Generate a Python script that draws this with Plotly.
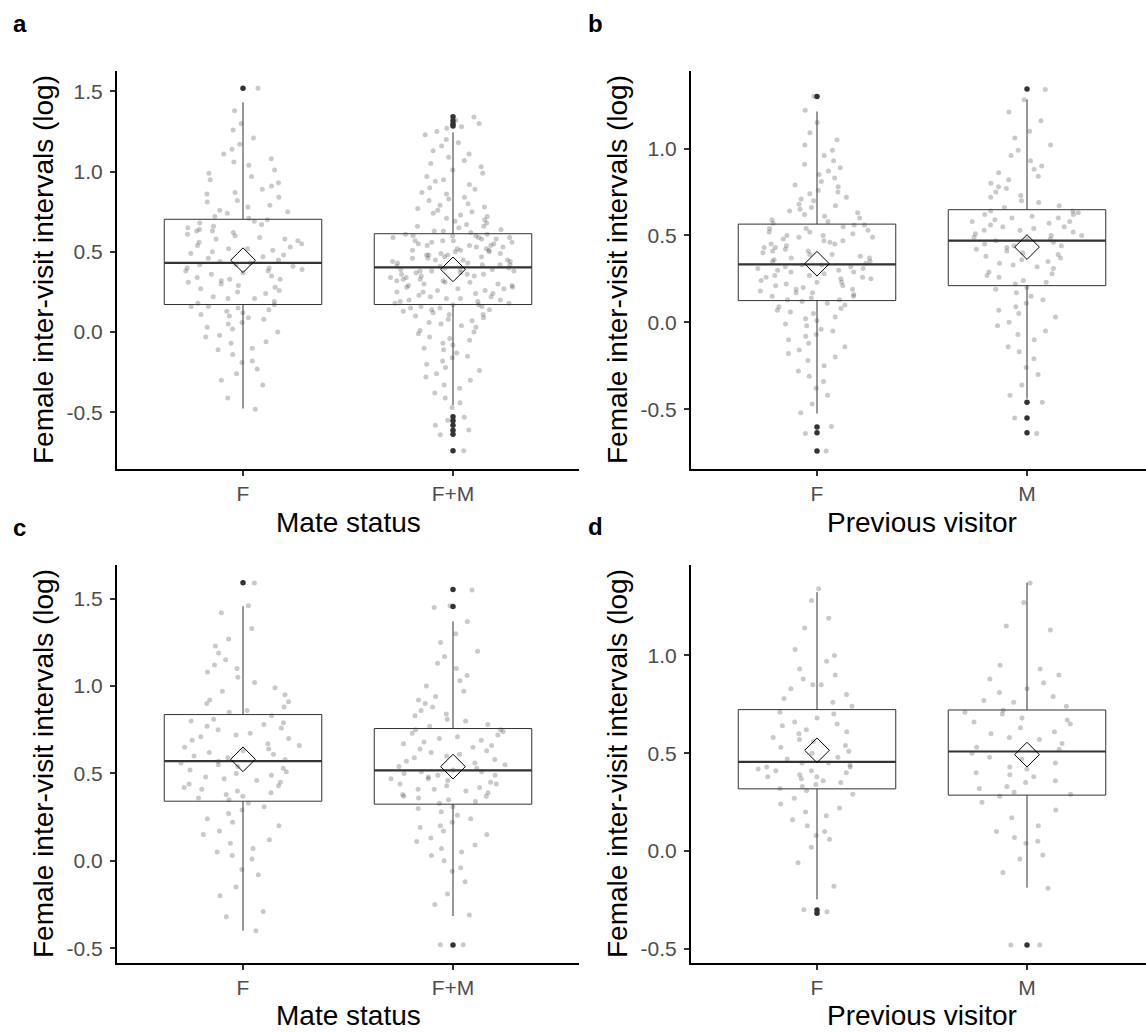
import plotly.graph_objects as go

W, H = 1146, 1032
FONT = "Liberation Sans, Arial, Helvetica, sans-serif"

# ---------------- categories / labels ----------------
cats_mate = ["F", "F+M"]
cats_prev = ["F", "M"]
ytitle = "Female inter-visit intervals (log)"
xtitle_mate = "Mate status"
xtitle_prev = "Previous visitor"
panel_letters = ["a", "b", "c", "d"]

# ---------------- jittered observations (read from clouds) ----------------
a_F = [-0.48, -0.41, -0.33, -0.30, -0.26, -0.23, -0.19, -0.18, -0.14, -0.11, -0.10, -0.07, -0.06, -0.03, -0.02,
       0.00, 0.02, 0.03, 0.05, 0.06, 0.08, 0.09, 0.10, 0.11, 0.12, 0.13, 0.14, 0.15, 0.16, 0.16,
       0.17, 0.18, 0.19, 0.21, 0.21, 0.22, 0.24, 0.25, 0.26, 0.27, 0.28, 0.29, 0.30, 0.31, 0.32,
       0.33, 0.33, 0.34, 0.35, 0.36, 0.37, 0.38, 0.38, 0.39, 0.40, 0.40, 0.41, 0.42, 0.42, 0.43,
       0.44, 0.45, 0.46, 0.47, 0.48, 0.49, 0.50, 0.51, 0.52, 0.52, 0.53, 0.54, 0.55, 0.56, 0.57,
       0.58, 0.58, 0.59, 0.60, 0.61, 0.62, 0.63, 0.63, 0.64, 0.65, 0.66, 0.67, 0.68, 0.69, 0.70,
       0.71, 0.72, 0.74, 0.75, 0.76, 0.78, 0.79, 0.81, 0.82, 0.84, 0.86, 0.87, 0.89, 0.91, 0.93,
       0.95, 0.97, 0.99, 1.01, 1.04, 1.06, 1.08, 1.11, 1.14, 1.17, 1.21, 1.26, 1.30, 1.38, 1.52]
a_FM = [-0.74, -0.64, -0.61, -0.58, -0.55, -0.53, -0.47, -0.44, -0.41, -0.38, -0.35, -0.33, -0.30, -0.28, -0.26,
        -0.24, -0.22, -0.20, -0.18, -0.16, -0.15, -0.13, -0.11, -0.10, -0.08, -0.07, -0.05, -0.04, -0.03, -0.01,
        0.00, 0.01, 0.03, 0.04, 0.05, 0.06, 0.07, 0.08, 0.09, 0.10, 0.11, 0.11, 0.12, 0.13, 0.14,
        0.14, 0.15, 0.15, 0.16, 0.16,
        0.17, 0.17, 0.18, 0.18, 0.19, 0.19, 0.20, 0.20, 0.21, 0.21, 0.22, 0.22, 0.23, 0.24, 0.24,
        0.25, 0.25, 0.26, 0.26, 0.27, 0.27, 0.28, 0.28, 0.29, 0.29, 0.30, 0.30, 0.31, 0.31, 0.32,
        0.32, 0.33, 0.33, 0.34, 0.34, 0.35, 0.35, 0.36, 0.36, 0.36, 0.37, 0.37, 0.38, 0.38, 0.38,
        0.39, 0.39, 0.39, 0.40, 0.40,
        0.41, 0.41, 0.42, 0.42, 0.42, 0.43, 0.43, 0.44, 0.44, 0.45, 0.45, 0.45, 0.46, 0.46, 0.47,
        0.47, 0.48, 0.48, 0.48, 0.49, 0.49, 0.50, 0.50, 0.51, 0.51, 0.51, 0.52, 0.52, 0.53, 0.53,
        0.54, 0.54, 0.54, 0.55, 0.55, 0.56, 0.56, 0.57, 0.57, 0.57, 0.58, 0.58, 0.59, 0.59, 0.59,
        0.60, 0.60, 0.60, 0.61, 0.61,
        0.62, 0.63, 0.63, 0.64, 0.65, 0.66, 0.66, 0.67, 0.68, 0.69, 0.70, 0.71, 0.72, 0.73, 0.74,
        0.75, 0.76, 0.77, 0.78, 0.79, 0.80, 0.82, 0.83, 0.84, 0.86, 0.87, 0.89, 0.90, 0.92, 0.94,
        0.95, 0.97, 0.99, 1.01, 1.03, 1.05, 1.07, 1.09, 1.11, 1.13, 1.16, 1.18, 1.20, 1.23, 1.25,
        1.27, 1.28, 1.30, 1.32, 1.34]
b_F = [-0.74, -0.64, -0.60, -0.52, -0.47, -0.42, -0.38, -0.34, -0.31, -0.28, -0.25, -0.22, -0.20, -0.18, -0.16,
       -0.14, -0.12, -0.10, -0.08, -0.07, -0.05, -0.04, -0.02, -0.01, 0.01, 0.02, 0.03, 0.05, 0.06, 0.07,
       0.08, 0.09, 0.10, 0.11, 0.12,
       0.13, 0.13, 0.14, 0.15, 0.15, 0.16, 0.17, 0.17, 0.18, 0.19, 0.19, 0.20, 0.21, 0.21, 0.22,
       0.23, 0.23, 0.24, 0.25, 0.25, 0.26, 0.26, 0.27, 0.27, 0.28, 0.29, 0.29, 0.30, 0.30, 0.31,
       0.31, 0.32, 0.32, 0.33, 0.33,
       0.34, 0.35, 0.35, 0.36, 0.37, 0.37, 0.38, 0.39, 0.39, 0.40, 0.41, 0.41, 0.42, 0.43, 0.43,
       0.44, 0.45, 0.45, 0.46, 0.47, 0.47, 0.48, 0.49, 0.49, 0.50, 0.50, 0.51, 0.52, 0.52, 0.53,
       0.54, 0.54, 0.55, 0.56, 0.56,
       0.57, 0.58, 0.59, 0.60, 0.61, 0.62, 0.63, 0.64, 0.65, 0.66, 0.67, 0.68, 0.70, 0.71, 0.72,
       0.74, 0.75, 0.76, 0.78, 0.79, 0.81, 0.83, 0.85, 0.87, 0.89, 0.91, 0.93, 0.96, 0.99, 1.02,
       1.05, 1.09, 1.15, 1.22, 1.30]
b_M = [-0.64, -0.55, -0.46, -0.42, -0.36, -0.30, -0.26, -0.21, -0.17, -0.14, -0.10, -0.07, -0.05, -0.02, 0.00,
       0.03, 0.05, 0.07, 0.09, 0.11, 0.13, 0.15, 0.17, 0.19, 0.20,
       0.22, 0.23, 0.24, 0.26, 0.27, 0.28, 0.29, 0.31, 0.32, 0.33, 0.34, 0.35, 0.36, 0.37, 0.38,
       0.39, 0.40, 0.41, 0.42, 0.43, 0.44, 0.44, 0.45, 0.46, 0.47,
       0.48, 0.48, 0.49, 0.50, 0.50, 0.51, 0.52, 0.53, 0.53, 0.54, 0.55, 0.55, 0.56, 0.57, 0.58,
       0.58, 0.59, 0.60, 0.60, 0.61, 0.62, 0.62, 0.63, 0.64, 0.64,
       0.66, 0.67, 0.69, 0.70, 0.72, 0.73, 0.75, 0.77, 0.78, 0.80, 0.82, 0.84, 0.86, 0.88, 0.90,
       0.93, 0.96, 0.99, 1.02, 1.06, 1.10, 1.16, 1.21, 1.28, 1.34]
c_F = [-0.40, -0.32, -0.29, -0.20, -0.15, -0.08, -0.05, 0.01, 0.03, 0.05, 0.07, 0.10, 0.12, 0.15, 0.17,
       0.20, 0.22, 0.24, 0.27, 0.29, 0.31, 0.33,
       0.35, 0.36, 0.37, 0.38, 0.39, 0.40, 0.41, 0.42, 0.43, 0.44, 0.45, 0.46, 0.47, 0.48, 0.49,
       0.50, 0.51, 0.52, 0.53, 0.54, 0.55, 0.56, 0.57,
       0.58, 0.59, 0.60, 0.61, 0.62, 0.63, 0.64, 0.65, 0.66, 0.67, 0.69, 0.70, 0.71, 0.72, 0.73,
       0.75, 0.76, 0.77, 0.78, 0.79, 0.80, 0.81, 0.83,
       0.85, 0.86, 0.88, 0.90, 0.91, 0.92, 0.95, 0.97, 0.99, 1.02, 1.05, 1.08, 1.10, 1.12, 1.15,
       1.19, 1.23, 1.27, 1.33, 1.42, 1.46, 1.59]
c_FM = [-0.48, -0.48, -0.31, -0.25, -0.19, -0.12, -0.06, -0.04, 0.00, 0.03, 0.05, 0.07, 0.09, 0.11, 0.13,
        0.15, 0.17, 0.19, 0.20, 0.22, 0.24, 0.26, 0.28, 0.30, 0.31,
        0.33, 0.34, 0.35, 0.36, 0.37, 0.37, 0.38, 0.39, 0.40, 0.41, 0.41, 0.42, 0.43, 0.44, 0.44,
        0.45, 0.46, 0.47, 0.47, 0.48, 0.49, 0.49, 0.50, 0.51, 0.51,
        0.52, 0.53, 0.54, 0.55, 0.56, 0.57, 0.58, 0.59, 0.60, 0.61, 0.62, 0.63, 0.64, 0.65, 0.66,
        0.67, 0.68, 0.69, 0.70, 0.71, 0.72, 0.73, 0.74, 0.75, 0.75,
        0.77, 0.78, 0.80, 0.81, 0.83, 0.84, 0.86, 0.88, 0.90, 0.92, 0.94, 0.97, 1.00, 1.03, 1.06,
        1.10, 1.13, 1.17, 1.20, 1.25, 1.30, 1.37, 1.45, 1.46, 1.55]
d_F = [-0.31, -0.30, -0.18, -0.06, 0.02, 0.06, 0.08, 0.10, 0.13, 0.16, 0.18, 0.20, 0.22, 0.24, 0.27,
       0.29, 0.31,
       0.32, 0.33, 0.34, 0.35, 0.36, 0.37, 0.38, 0.38, 0.39, 0.40, 0.41, 0.41, 0.42, 0.43, 0.43,
       0.44, 0.45, 0.45,
       0.47, 0.48, 0.50, 0.51, 0.53, 0.54, 0.56, 0.57, 0.58, 0.60, 0.61, 0.62, 0.64, 0.65, 0.66,
       0.68, 0.70, 0.71,
       0.74, 0.76, 0.78, 0.80, 0.83, 0.85, 0.85, 0.88, 0.90, 0.93, 0.97, 1.00, 1.03, 1.14, 1.19,
       1.28, 1.34]
d_M = [-0.48, -0.48, -0.19, -0.11, -0.04, -0.02, 0.04, 0.05, 0.07, 0.10, 0.13, 0.17, 0.21, 0.25, 0.28,
       0.29, 0.30, 0.32, 0.33, 0.35, 0.36, 0.38, 0.39, 0.40, 0.42, 0.43, 0.45, 0.47, 0.48, 0.50,
       0.52, 0.53, 0.55, 0.57, 0.58, 0.60, 0.61, 0.63, 0.65, 0.66, 0.67, 0.68, 0.70, 0.71, 0.72,
       0.74, 0.76, 0.77, 0.79, 0.81, 0.83, 0.86, 0.88, 0.90, 0.93, 0.95, 1.13, 1.15, 1.27, 1.37]

a_q1 = [0.172, 0.172];   a_med = [0.431, 0.403];  a_q3 = [0.703, 0.613]
a_lo = [-0.476, -0.455]; a_hi = [1.432, 1.245];   a_mean = [0.448, 0.391]
a_out = [[1.519], [1.342, 1.317, 1.297, 1.284, -0.528, -0.553, -0.580, -0.611, -0.636, -0.740]]

b_q1 = [0.125, 0.211];   b_med = [0.333, 0.470];  b_q3 = [0.565, 0.648]
b_lo = [-0.525, -0.439]; b_hi = [1.213, 1.282];   b_mean = [0.337, 0.433]
b_out = [[1.299, -0.602, -0.636, -0.740], [1.343, -0.460, -0.550, -0.636]]

c_q1 = [0.341, 0.324];   c_med = [0.570, 0.517];  c_q3 = [0.837, 0.757]
c_lo = [-0.400, -0.316]; c_hi = [1.457, 1.370];   c_mean = [0.581, 0.539]
c_out = [[1.591], [1.553, 1.455, -0.482]]

d_q1 = [0.318, 0.286];   d_med = [0.456, 0.509];  d_q3 = [0.723, 0.721]
d_lo = [-0.247, -0.187]; d_hi = [1.323, 1.372];   d_mean = [0.515, 0.493]
d_out = [[-0.301, -0.318], [-0.480]]

# y ranges and ticks per panel
a_range = [-0.853, 1.627]; a_ticks = [-0.5, 0.0, 0.5, 1.0, 1.5]
b_range = [-0.844, 1.446]; b_ticks = [-0.5, 0.0, 0.5, 1.0]
c_range = [-0.585, 1.693]; c_ticks = [-0.5, 0.0, 0.5, 1.0, 1.5]
d_range = [-0.572, 1.462]; d_ticks = [-0.5, 0.0, 0.5, 1.0]

# ---------------- figure ----------------
fig = go.Figure()

BOXW = 0.75
LINE_C = "#333333"


def add_panel(xa, ya, cats, clouds, q1, med, q3, lo, hi, mean, outs):
    for i, cat in enumerate(cats):
        # box + whiskers
        fig.add_trace(go.Box(x=[cat], q1=[q1[i]], median=[med[i]], q3=[q3[i]],
                             lowerfence=[lo[i]], upperfence=[hi[i]],
                             width=BOXW, whiskerwidth=0, boxpoints=False,
                             line=dict(color=LINE_C, width=1), fillcolor="rgba(255,255,255,0)",
                             xaxis=xa, yaxis=ya, showlegend=False, hoverinfo="skip"))
        # thicker median bar
        fig.add_trace(go.Box(x=[cat], q1=[med[i]], median=[med[i]], q3=[med[i]],
                             lowerfence=[med[i]], upperfence=[med[i]],
                             width=BOXW, whiskerwidth=0, boxpoints=False,
                             line=dict(color=LINE_C, width=2.2), fillcolor="rgba(255,255,255,0)",
                             xaxis=xa, yaxis=ya, showlegend=False, hoverinfo="skip"))
        # jittered raw points
        fig.add_trace(go.Box(x=[cat] * len(clouds[i]), y=clouds[i], boxpoints="all",
                             jitter=0.8, pointpos=0, width=BOXW,
                             line=dict(color="rgba(0,0,0,0)", width=0), fillcolor="rgba(0,0,0,0)",
                             marker=dict(color="rgba(60,60,60,0.28)", size=5, line=dict(width=0)),
                             xaxis=xa, yaxis=ya, showlegend=False, hoverinfo="y"))
    for i, cat in enumerate(cats):
        fig.add_trace(go.Scatter(x=[cat] * len(outs[i]), y=outs[i], mode="markers",
                                 marker=dict(color=LINE_C, size=5.5),
                                 xaxis=xa, yaxis=ya, showlegend=False, hoverinfo="y"))
    fig.add_trace(go.Scatter(x=cats, y=mean, mode="markers",
                             marker=dict(symbol="diamond-open", size=19, color="black",
                                         line=dict(width=1, color="black")),
                             xaxis=xa, yaxis=ya, showlegend=False, hoverinfo="y"))


add_panel("x", "y", cats_mate, [a_F, a_FM], a_q1, a_med, a_q3, a_lo, a_hi, a_mean, a_out)
add_panel("x2", "y2", cats_prev, [b_F, b_M], b_q1, b_med, b_q3, b_lo, b_hi, b_mean, b_out)
add_panel("x3", "y3", cats_mate, [c_F, c_FM], c_q1, c_med, c_q3, c_lo, c_hi, c_mean, c_out)
add_panel("x4", "y4", cats_prev, [d_F, d_M], d_q1, d_med, d_q3, d_lo, d_hi, d_mean, d_out)


def px_x(p):
    return p / W


def px_y(p):
    return 1 - p / H


# pixel frame of the panels
LEFT_X = [117, 579]
RIGHT_X = [691, 1146]
TOP_Y = [71, 469]
BOT_Y = [565, 963]


def xax(dom, cats, rng, anchor):
    return dict(domain=[px_x(dom[0]), px_x(dom[1])], type="category",
                categoryorder="array", categoryarray=cats, range=rng,
                showline=True, linecolor="black", linewidth=2,
                ticks="outside", ticklen=5, tickwidth=2, tickcolor=LINE_C,
                tickfont=dict(family=FONT, size=21, color="#4D4D4D"),
                showgrid=False, zeroline=False, anchor=anchor, fixedrange=True)


def yax(dom, rng, ticks, anchor):
    return dict(domain=[px_y(dom[1]), px_y(dom[0])], range=rng,
                tickmode="array", tickvals=ticks, ticktext=[f"{t:.1f}" for t in ticks],
                showline=True, linecolor="black", linewidth=2,
                ticks="outside", ticklen=5, tickwidth=2, tickcolor=LINE_C,
                tickfont=dict(family=FONT, size=21, color="#4D4D4D"), ticklabelstandoff=3,
                showgrid=False, zeroline=False, anchor=anchor, fixedrange=True)


right_rng = [-0.6, (RIGHT_X[1] - RIGHT_X[0]) / 210.0 - 0.6]

fig.update_layout(
    width=W, height=H, margin=dict(l=0, r=0, t=0, b=0),
    paper_bgcolor="white", plot_bgcolor="white", boxmode="overlay", showlegend=False,
    xaxis=xax(LEFT_X, cats_mate, [-0.6, 1.6], "y"),
    yaxis=yax(TOP_Y, a_range, a_ticks, "x"),
    xaxis2=xax(RIGHT_X, cats_prev, right_rng, "y2"),
    yaxis2=yax(TOP_Y, b_range, b_ticks, "x2"),
    xaxis3=xax(LEFT_X, cats_mate, [-0.6, 1.6], "y3"),
    yaxis3=yax(BOT_Y, c_range, c_ticks, "x3"),
    xaxis4=xax(RIGHT_X, cats_prev, right_rng, "y4"),
    yaxis4=yax(BOT_Y, d_range, d_ticks, "x4"),
)

annotations = []
TITLE_FONT = dict(family=FONT, size=28, color="black")
# y titles
for xc, (t0, t1) in [(43, TOP_Y), (617, TOP_Y), (43, BOT_Y), (617, BOT_Y)]:
    annotations.append(dict(text=ytitle, x=px_x(xc), y=px_y((t0 + t1) / 2), xref="paper", yref="paper",
                            xanchor="center", yanchor="middle", textangle=-90, showarrow=False,
                            font=TITLE_FONT))
# x titles
for xc, yc, txt in [(348, 522, xtitle_mate), (922, 522, xtitle_prev),
                    (348, 1015, xtitle_mate), (922, 1015, xtitle_prev)]:
    annotations.append(dict(text=txt, x=px_x(xc), y=px_y(yc), xref="paper", yref="paper",
                            xanchor="center", yanchor="middle", showarrow=False, font=TITLE_FONT))
# panel letters
for (xl, yc), letter in zip([(11, 23), (586, 23), (11, 527), (586, 526)], panel_letters):
    annotations.append(dict(text=f"<b>{letter}</b>", x=px_x(xl), y=px_y(yc), xref="paper", yref="paper",
                            xanchor="left", yanchor="middle", showarrow=False,
                            font=dict(family=FONT, size=24, color="black")))
fig.update_layout(annotations=annotations)

fig.write_html("out.html")
